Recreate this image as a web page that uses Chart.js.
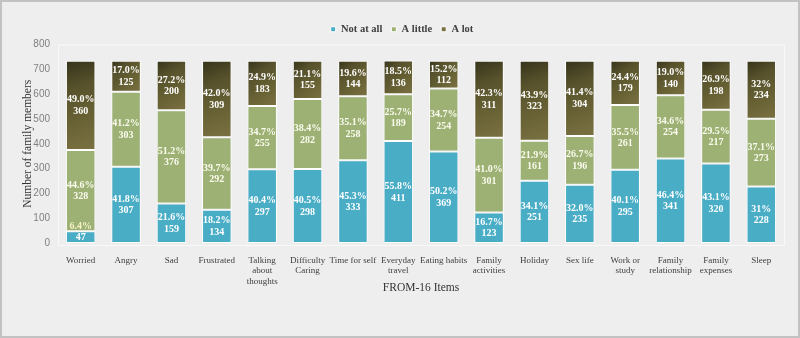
<!DOCTYPE html>
<html>
<head>
<meta charset="utf-8">
<script src="https://cdn.jsdelivr.net/npm/chart.js@4.4.1/dist/chart.umd.min.js"></script>
<style>
  html, body { margin: 0; padding: 0; background: #eeeeee; }
  #wrap { width: 800px; height: 338px; }
</style>
</head>
<body>
<div id="wrap"><canvas id="chart" width="800" height="338"></canvas></div>
<script>
// Chart data
const categories = [
    'Worried', 'Angry', 'Sad', 'Frustrated', ['Talking', 'about', 'thoughts'],
    ['Difficulty', 'Caring'], 'Time for self', ['Everyday', 'travel'], 'Eating habits',
    ['Family', 'activities'], 'Holiday', 'Sex life', ['Work or', 'study'],
    ['Family', 'relationship'], ['Family', 'expenses'], 'Sleep'
];
const notAtAll = [47, 307, 159, 134, 297, 298, 333, 411, 369, 123, 251, 235, 295, 341, 320, 228];
const aLittle = [328, 303, 376, 292, 255, 282, 258, 189, 254, 301, 161, 196, 261, 254, 217, 273];
const aLot = [360, 125, 200, 309, 183, 155, 144, 136, 112, 311, 323, 304, 179, 140, 198, 234];
const pctNotAtAll = ['6.4%', '41.8%', '21.6%', '18.2%', '40.4%', '40.5%', '45.3%', '55.8%', '50.2%', '16.7%', '34.1%', '32.0%', '40.1%', '46.4%', '43.1%', '31%'];
const pctALittle = ['44.6%', '41.2%', '51.2%', '39.7%', '34.7%', '38.4%', '35.1%', '25.7%', '34.7%', '41.0%', '21.9%', '26.7%', '35.5%', '34.6%', '29.5%', '37.1%'];
const pctALot = ['49.0%', '17.0%', '27.2%', '42.0%', '24.9%', '21.1%', '19.6%', '18.5%', '15.2%', '42.3%', '43.9%', '41.4%', '24.4%', '19.0%', '26.9%', '32%'];
const yMax = 800;
const yStep = 100;

const SERIF = '"Liberation Serif", "DejaVu Serif", serif';

// dark series: diagonal olive gradient, darkest at the top-left corner
function darkFill(context) {
    const chart = context.chart;
    if (context.type !== 'data' || !chart.chartArea) return '#5a5430';
    const x = chart.scales.x.getPixelForValue(context.dataIndex);
    const half = 15;
    const yTop = chart.scales.y.getPixelForValue(notAtAll[context.dataIndex] + aLittle[context.dataIndex] + aLot[context.dataIndex]);
    const yBot = chart.scales.y.getPixelForValue(notAtAll[context.dataIndex] + aLittle[context.dataIndex]);
    const g = chart.ctx.createLinearGradient(x - half, yTop, x + half, yBot);
    g.addColorStop(0, '#34321a');
    g.addColorStop(0.3, '#57522c');
    g.addColorStop(0.7, '#6b6436');
    g.addColorStop(1, '#7b7243');
    return g;
}

// background + outer frame + plot area frame
const framePlugin = {
    id: 'frame',
    beforeDraw(chart) {
        const ctx = chart.ctx;
        ctx.save();
        ctx.fillStyle = '#eeeeee';
        ctx.fillRect(0, 0, chart.width, chart.height);
        ctx.strokeStyle = '#c2c2c2';
        ctx.lineWidth = 2;
        ctx.strokeRect(1, 1, chart.width - 2, chart.height - 2);
        const a = chart.chartArea;
        ctx.strokeStyle = '#f9f9f9';
        ctx.lineWidth = 1;
        ctx.strokeRect(a.left + 0.5, a.top + 0.5, a.right - a.left, a.bottom - a.top + 2);
        ctx.restore();
    }
};

// percent + count labels inside each segment
const pctLists = [pctNotAtAll, pctALittle, pctALot];
const labelPlugin = {
    id: 'segLabels',
    afterDatasetsDraw(chart) {
        const ctx = chart.ctx;
        ctx.save();
        ctx.font = 'bold 10px ' + SERIF;
        ctx.textAlign = 'center';
        ctx.textBaseline = 'middle';
        chart.data.datasets.forEach((ds, di) => {
            const meta = chart.getDatasetMeta(di);
            meta.data.forEach((bar, i) => {
                const p = bar.getProps(['x', 'y', 'base'], true);
                const top = Math.min(p.y, p.base);
                const bot = Math.max(p.y, p.base);
                const mid = (top + bot) / 2;
                ctx.fillStyle = di === 1 ? '#fbfbee' : '#ffffff';
                if (bot - top < 24) {
                    ctx.fillStyle = '#f6f1c8';
                    ctx.fillText(pctLists[di][i], p.x, top - 5);
                    ctx.fillStyle = '#ffffff';
                    ctx.fillText(String(ds.data[i]), p.x, mid);
                } else {
                    ctx.fillText(pctLists[di][i], p.x, mid - 5.5);
                    ctx.fillText(String(ds.data[i]), p.x, mid + 6);
                }
            });
        });
        ctx.restore();
    }
};

const barCommon = {
    borderColor: '#ffffff',
    borderWidth: 1,
    borderSkipped: false,
    barPercentage: 0.65,
    categoryPercentage: 1.0
};

new Chart(document.getElementById('chart'), {
    type: 'bar',
    data: {
        labels: categories,
        datasets: [
            Object.assign({ label: 'Not at all', data: notAtAll, backgroundColor: '#4aadc6' }, barCommon),
            Object.assign({ label: 'A little', data: aLittle, backgroundColor: '#9db175' }, barCommon),
            Object.assign({ label: 'A lot', data: aLot, backgroundColor: darkFill }, barCommon)
        ]
    },
    options: {
        responsive: false,
        animation: false,
        layout: { padding: { top: 15, left: 20, right: 16, bottom: 42 } },
        plugins: {
            tooltip: { enabled: false },
            legend: {
                position: 'top',
                labels: {
                    boxWidth: 5,
                    boxHeight: 5,
                    padding: 9,
                    color: '#404040',
                    font: { family: SERIF, size: 10.5, weight: 'bold' }
                }
            }
        },
        scales: {
            x: {
                stacked: true,
                grid: { display: false },
                border: { display: false },
                ticks: {
                    color: '#404040',
                    font: { family: SERIF, size: 9, lineHeight: 1.12 },
                    maxRotation: 0,
                    autoSkip: false,
                    padding: 5
                },
                title: {
                    display: true,
                    text: 'FROM-16 Items',
                    color: '#333333',
                    font: { family: SERIF, size: 11.5 },
                    padding: { top: 0, bottom: 1 }
                },
                afterFit(scale) { scale.height = 53; }
            },
            y: {
                stacked: true,
                min: 0,
                max: yMax,
                grid: { display: false },
                border: { display: false },
                ticks: {
                    stepSize: yStep,
                    color: '#7f7f7f',
                    padding: 0,
                    font: { family: '"Liberation Sans", Arial, sans-serif', size: 10 }
                },
                title: {
                    display: true,
                    text: 'Number of family members',
                    color: '#333333',
                    font: { family: SERIF, size: 11.5 },
                    padding: { top: 1, bottom: 0 }
                },
                afterFit(scale) { scale.width = 38; }
            }
        }
    },
    plugins: [framePlugin, labelPlugin]
});
</script>
</body>
</html>
